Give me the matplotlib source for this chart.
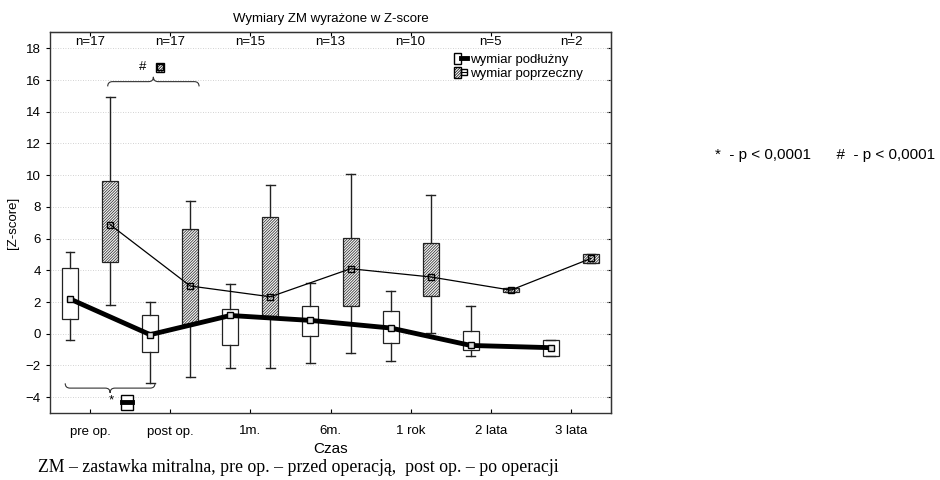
import matplotlib
matplotlib.use('Agg')
import matplotlib.pyplot as plt
from matplotlib.patches import Rectangle, PathPatch
from matplotlib.path import Path
from matplotlib.lines import Line2D
from matplotlib.legend_handler import HandlerTuple

plt.rcParams['font.family'] = ['Liberation Sans', 'DejaVu Sans']
plt.rcParams['hatch.linewidth'] = 0.5

categories = ['pre op.', 'post op.', '1m.', '6m.', '1 rok', '2 lata', '3 lata']
n_labels = ['n=17', 'n=17', 'n=15', 'n=13', 'n=10', 'n=5', 'n=2']

# wymiar podłużny
pod_whislo = [-0.38, -3.13, -2.16, -1.85, -1.75, -1.39, -1.39]
pod_q1 = [0.95, -1.15, -0.69, -0.17, -0.61, -1.03, -1.39]
pod_mid = [2.19, -0.06, 1.15, 0.84, 0.36, -0.74, -0.88]
pod_q3 = [4.12, 1.15, 1.53, 1.72, 1.41, 0.15, -0.38]
pod_whishi = [5.13, 1.97, 3.13, 3.20, 2.69, 1.72, -0.38]

# wymiar poprzeczny
pop_whislo = [1.81, -2.76, -2.16, -1.22, 0.04, 2.63, 4.46]
pop_q1 = [4.52, 0.63, 1.09, 1.75, 2.35, 2.63, 4.46]
pop_mid = [6.88, 3.01, 2.33, 4.10, 3.58, 2.75, 4.75]
pop_q3 = [9.65, 6.58, 7.38, 6.04, 5.72, 2.86, 5.03]
pop_whishi = [14.93, 8.37, 9.38, 10.07, 8.77, 2.86, 5.03]

HATCH = '////////////'
FS = 9.5
x = list(range(len(categories)))
pos_pod = [i - 0.25 for i in x]
pos_pop = [i + 0.25 for i in x]

fig = plt.figure(figsize=(9.4, 4.8), dpi=100)
ax = fig.add_axes([50 / 940, 1 - 413 / 480, 561 / 940, 381 / 480])


def stats(lo, q1, mid, q3, hi):
    return [dict(whislo=a, q1=b, med=c, q3=d, whishi=e, fliers=[])
            for a, b, c, d, e in zip(lo, q1, mid, q3, hi)]


common = dict(widths=0.2, capwidths=0.11, showfliers=False, patch_artist=True,
              whiskerprops=dict(color='#222222', lw=1.0),
              capprops=dict(color='#222222', lw=1.0),
              medianprops=dict(visible=False), manage_ticks=False)
ax.bxp(stats(pod_whislo, pod_q1, pod_mid, pod_q3, pod_whishi), positions=pos_pod,
       boxprops=dict(facecolor='white', edgecolor='#222222', lw=0.9), zorder=2, **common)
ax.bxp(stats(pop_whislo, pop_q1, pop_mid, pop_q3, pop_whishi), positions=pos_pop,
       boxprops=dict(facecolor='#f4f4f4', edgecolor='#222222', lw=0.9, hatch=HATCH), zorder=2, **common)

ax.plot(pos_pod, pod_mid, color='black', lw=3.5, marker='s', ms=5,
        mfc='#dddddd', mec='black', mew=1, zorder=4)
ax.plot(pos_pop, pop_mid, color='black', lw=0.9, marker='s', ms=5,
        mfc='none', mec='black', mew=1, zorder=4)

ax.set_xlim(-0.5, 6.5)
ax.set_ylim(-5, 19.03)
ax.set_yticks(range(-4, 19, 2))
ax.set_xticks(x, categories)
ax.tick_params(axis='x', direction='in', length=3, labelsize=FS, pad=9)
ax.tick_params(axis='y', direction='out', length=3, labelsize=FS)
ax.yaxis.grid(True, linestyle=(0, (1, 2)), color='#c4c4c4', lw=0.6)
ax.set_axisbelow(True)
for s in ax.spines.values():
    s.set_color('#333333')
    s.set_linewidth(1.0)

sec_r = ax.secondary_yaxis('right')
sec_r.set_yticks(range(-4, 19, 2))
sec_r.tick_params(direction='in', length=3, labelright=False)
sec_t = ax.secondary_xaxis('top')
sec_t.set_xticks(x)
sec_t.tick_params(direction='in', length=3, labeltop=False)

for i, t in zip(x, n_labels):
    ax.text(i, 18.38, t, ha='center', va='center', fontsize=FS)

ax.set_xlabel('Czas', fontsize=11, labelpad=3)
ax.set_ylabel('[Z-score]', fontsize=FS, labelpad=5)
ax.set_title('Wymiary ZM wyrażone w Z-score', fontsize=FS, pad=7)


def brace(x0, x1, y, h, up=True):
    s = 1 if up else -1
    xm = (x0 + x1) / 2
    d = 0.06
    verts = [(x0, y - s * h), (x0, y), (x0 + d, y),
             (xm - d, y), (xm, y), (xm, y + s * h),
             (xm, y), (xm + d, y),
             (x1 - d, y), (x1, y), (x1, y - s * h)]
    codes = [Path.MOVETO, Path.CURVE3, Path.CURVE3,
             Path.LINETO, Path.CURVE3, Path.CURVE3,
             Path.CURVE3, Path.CURVE3,
             Path.LINETO, Path.CURVE3, Path.CURVE3]
    ax.add_patch(PathPatch(Path(verts, codes), fill=False, lw=0.8,
                           edgecolor='#333333', zorder=5))


brace(0.22, 1.36, 15.9, 0.3, up=True)
ax.text(0.66, 16.8, '#', ha='center', va='center', fontsize=FS)
ax.add_patch(Rectangle((0.875 - 0.05, 16.8 - 0.3), 0.1, 0.6, facecolor='#f4f4f4',
                       edgecolor='black', hatch=HATCH, lw=1, zorder=5))
ax.plot([0.875], [16.8], marker='s', ms=4, mfc='none', mec='black', zorder=6)

brace(-0.31, 0.81, -3.43, 0.3, up=False)
ax.text(0.27, -4.2, '*', ha='center', va='center', fontsize=FS)
ax.add_patch(Rectangle((0.46 - 0.075, -4.33 - 0.45), 0.15, 0.9, facecolor='white',
                       edgecolor='black', lw=1, zorder=5))
ax.plot([0.40, 0.52], [-4.33, -4.33], color='black', lw=3.5, zorder=6)

h_pod = (Rectangle((0, 0), 1, 1, facecolor='white', edgecolor='black', lw=1),
         Line2D([0], [0], color='black', lw=3.5))
h_pop = (Rectangle((0, 0), 1, 1, facecolor='#f4f4f4', edgecolor='black', lw=1, hatch=HATCH),
         Line2D([0], [0], color='black', lw=0.8, marker='s', ms=4, mfc='none', mec='black'))
ax.legend([h_pod, h_pop], ['wymiar podłużny', 'wymiar poprzeczny'],
          handler_map={tuple: HandlerTuple(ndivide=None)},
          loc='upper left', bbox_to_anchor=(0.72, 0.945), frameon=False,
          fontsize=FS, handlelength=1.0, handleheight=0.9, handletextpad=0.2,
          labelspacing=0.05, borderaxespad=0, borderpad=0)

fig.text(715 / 940, 1 - 155 / 480, '*  - p < 0,0001      #  - p < 0,0001',
         fontsize=11, va='center', ha='left')
fig.text(38 / 940, 1 - 467 / 480,
         'ZM – zastawka mitralna, pre op. – przed operacją,  post op. – po operacji',
         family=['Liberation Serif', 'DejaVu Serif'], fontsize=12.8, va='center', ha='left')

fig.savefig('out.png', dpi=100)
